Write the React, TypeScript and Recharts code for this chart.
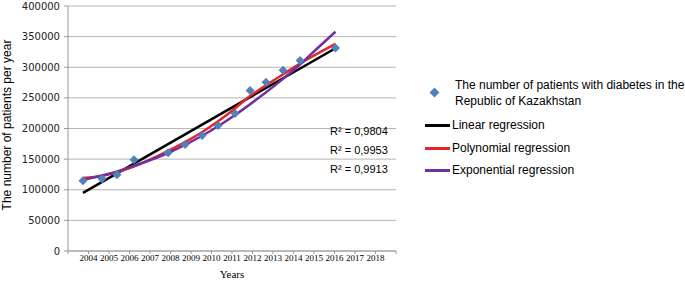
import React from "react"
import { ComposedChart, Line, Scatter, XAxis, YAxis, CartesianGrid } from "recharts"

// observed values (x positions as they sit on the year axis)
const obsYears = [2003.73, 2004.66, 2005.39, 2006.22, 2007.88, 2008.71, 2009.54, 2010.32, 2011.15, 2011.88, 2012.66, 2013.49, 2014.32, 2016.05]
const obsPatients = [114500, 118000, 124600, 149000, 160600, 173800, 188500, 205000, 224600, 262000, 275400, 295000, 311000, 331500]

// trend lines
const linYears = [2003.73, 2016.05]
const linValues = [95000, 331000]

const polyYears = [2003.73, 2004.7, 2006.37, 2007.98, 2009.59, 2010.9, 2011.88, 2013.1, 2014.32, 2016.05]
const polyValues = [119000, 123000, 140000, 165000, 195000, 226000, 253000, 280000, 306000, 338000]

const expYears = [2003.73, 2005.0, 2006.22, 2007.88, 2009.59, 2011.15, 2012.5, 2013.49, 2014.3, 2015.1, 2016.05]
const expValues = [116000, 126000, 139000, 160000, 189000, 222000, 255000, 281000, 304000, 329000, 358000]

const yTicks = [0, 50000, 100000, 150000, 200000, 250000, 300000, 350000, 400000]
const xTicks = [2003, 2004, 2005, 2006, 2007, 2008, 2009, 2010, 2011, 2012, 2013, 2014, 2015, 2016, 2017, 2018, 2019]
const xLabels = [2004, 2005, 2006, 2007, 2008, 2009, 2010, 2011, 2012, 2013, 2014, 2015, 2016, 2017, 2018]

const rSquared = ["0,9804", "0,9953", "0,9913"]

const toPoints = (xs: number[], ys: number[]) => xs.map((x, i) => ({ x, y: ys[i] }))

const obs = toPoints(obsYears, obsPatients)
const lin = toPoints(linYears, linValues)
const poly = toPoints(polyYears, polyValues)
const expo = toPoints(expYears, expValues)

const BLUE = "#4f81bd"
const RED = "#e2262c"
const PURPLE = "#7030a0"

const Diamond = (props: any) => {
  const { cx, cy } = props
  const r = 4.5
  return <polygon points={`${cx},${cy - r} ${cx + r},${cy} ${cx},${cy + r} ${cx - r},${cy}`} fill={BLUE} />
}

const sans = "'Liberation Sans', Arial, sans-serif"
const serif = "'Liberation Serif', 'Times New Roman', serif"

function LegendLine({ color, top, text }: { color: string; top: number; text: string }) {
  return (
    <>
      <div style={{ position: "absolute", left: 425, top: top - 1.5, width: 25, height: 3, background: color }} />
      <div style={{ position: "absolute", left: 452, top: top - 8, fontSize: 12, lineHeight: "16px", fontFamily: sans, whiteSpace: "nowrap" }}>
        {text}
      </div>
    </>
  )
}

export default function App() {
  return (
    <div style={{ position: "absolute", left: 0, top: 0, width: 685, height: 281, background: "#fff" }}>
      <ComposedChart width={685} height={281} margin={{ top: 6, right: 289, bottom: 0, left: 0 }}>
        <CartesianGrid vertical={false} stroke="#b5b5b5" />
        <XAxis
          dataKey="x"
          type="number"
          domain={[2003, 2019]}
          ticks={xTicks}
          interval={0}
          allowDataOverflow
          height={30}
          tickSize={3}
          tickMargin={1}
          stroke="#9a9a9a"
          tick={{ fontSize: 9, fontFamily: serif, fill: "#000" }}
          tickFormatter={(v: number) => (xLabels.includes(v) ? String(v) : "")}
        />
        <YAxis
          type="number"
          domain={[0, 400000]}
          ticks={yTicks}
          interval={0}
          width={68}
          tickSize={4}
          tickMargin={4}
          stroke="#9a9a9a"
          tick={{ fontSize: 10, fontFamily: "'DejaVu Sans', sans-serif", fill: "#222" }}
        />
        <Scatter data={obs} dataKey="y" shape={Diamond} isAnimationActive={false} />
        <Line data={lin} dataKey="y" type="linear" stroke="#000" strokeWidth={2.5} dot={false} isAnimationActive={false} />
        <Line data={poly} dataKey="y" type="monotone" stroke={RED} strokeWidth={2.5} dot={false} isAnimationActive={false} />
        <Line data={expo} dataKey="y" type="monotone" stroke={PURPLE} strokeWidth={2.5} dot={false} isAnimationActive={false} />
      </ComposedChart>

      <div
        style={{
          position: "absolute",
          left: 7,
          top: 125,
          transform: "translate(-50%, -50%) rotate(-90deg)",
          fontSize: 12,
          fontFamily: sans,
          whiteSpace: "nowrap",
        }}
      >
        The number of patients per year
      </div>
      <div style={{ position: "absolute", left: 232, top: 274, transform: "translate(-50%, -50%)", fontSize: 11, fontFamily: serif }}>
        Years
      </div>

      {rSquared.map((r, i) => (
        <div
          key={r}
          style={{ position: "absolute", left: 330, top: 124 + i * 19, fontSize: 11, lineHeight: "14px", fontFamily: sans, whiteSpace: "nowrap" }}
        >
          R² = {r}
        </div>
      ))}

      <div style={{ position: "absolute", left: 431, top: 89, width: 7, height: 7, background: BLUE, transform: "rotate(45deg)" }} />
      <div style={{ position: "absolute", left: 455, top: 77, fontSize: 12, lineHeight: "16px", fontFamily: sans, whiteSpace: "nowrap" }}>
        The number of patients with diabetes in the
        <br />
        Republic of Kazakhstan
      </div>
      <LegendLine color="#000" top={125} text="Linear regression" />
      <LegendLine color={RED} top={148} text="Polynomial regression" />
      <LegendLine color={PURPLE} top={170} text="Exponential regression" />
    </div>
  )
}
